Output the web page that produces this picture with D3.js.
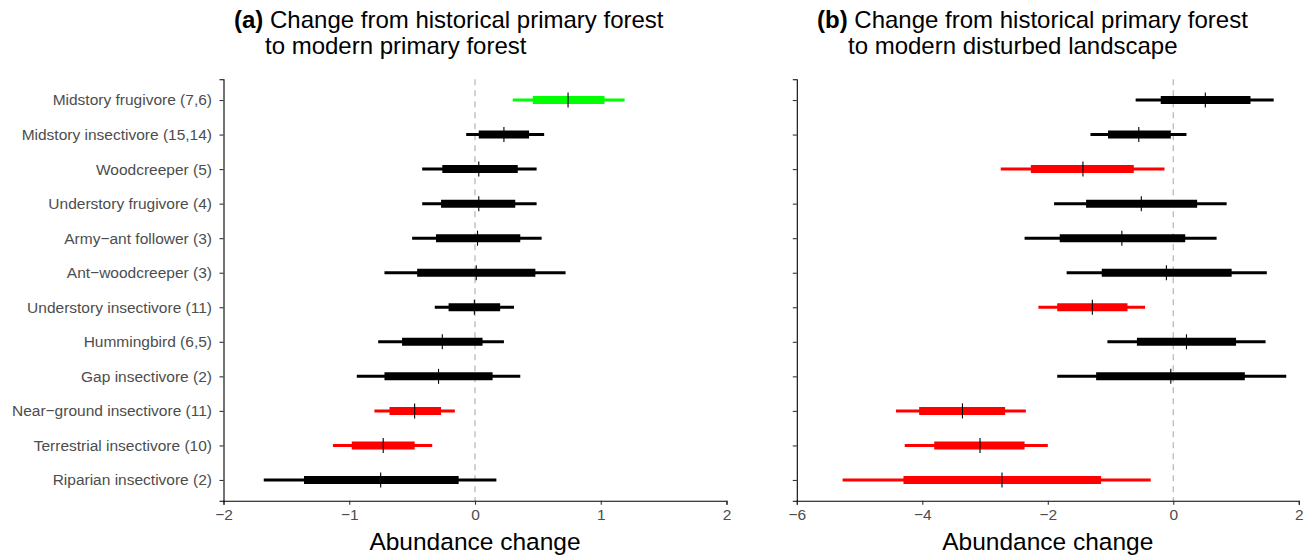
<!DOCTYPE html>
<html>
<head>
<meta charset="utf-8">
<script src="https://cdn.jsdelivr.net/npm/d3@7"></script>
<style>
  body { margin: 0; background: #fff; }
  text { font-family: "Liberation Sans", Arial, sans-serif; }
</style>
</head>
<body>
<div id="chart"></div>
<script>
// Guild names (top to bottom)
const guilds = [
    "Midstory frugivore (7,6)",
    "Midstory insectivore (15,14)",
    "Woodcreeper (5)",
    "Understory frugivore (4)",
    "Army\u2212ant follower (3)",
    "Ant\u2212woodcreeper (3)",
    "Understory insectivore (11)",
    "Hummingbird (6,5)",
    "Gap insectivore (2)",
    "Near\u2212ground insectivore (11)",
    "Terrestrial insectivore (10)",
    "Riparian insectivore (2)"
];

// Panel (a): historical primary -> modern primary
const aMedian = [0.74, 0.23, 0.03, 0.03, 0.02, 0.01, -0.005, -0.26, -0.29, -0.48, -0.73, -0.75];
const aInnerLo = [0.46, 0.03, -0.26, -0.27, -0.31, -0.46, -0.21, -0.58, -0.72, -0.68, -0.98, -1.36];
const aInnerHi = [1.03, 0.43, 0.34, 0.32, 0.36, 0.48, 0.20, 0.06, 0.14, -0.27, -0.48, -0.13];
const aOuterLo = [0.30, -0.07, -0.42, -0.42, -0.50, -0.72, -0.32, -0.77, -0.94, -0.80, -1.13, -1.68];
const aOuterHi = [1.19, 0.55, 0.49, 0.49, 0.53, 0.72, 0.31, 0.23, 0.36, -0.16, -0.34, 0.17];
const aSig = ["up", "ns", "ns", "ns", "ns", "ns", "ns", "ns", "ns", "down", "down", "ns"];

// Panel (b): historical primary -> modern disturbed
const bMedian = [0.51, -0.55, -1.44, -0.51, -0.82, -0.11, -1.29, 0.21, -0.04, -3.36, -3.08, -2.73];
const bInnerLo = [-0.20, -1.04, -2.27, -1.39, -1.81, -1.14, -1.85, -0.58, -1.23, -4.05, -3.81, -4.30];
const bInnerHi = [1.23, -0.04, -0.63, 0.38, 0.19, 0.93, -0.73, 1.00, 1.14, -2.68, -2.37, -1.15];
const bOuterLo = [-0.60, -1.32, -2.75, -1.90, -2.37, -1.70, -2.15, -1.05, -1.85, -4.42, -4.28, -5.27];
const bOuterHi = [1.60, 0.21, -0.14, 0.85, 0.69, 1.49, -0.45, 1.47, 1.80, -2.35, -2.00, -0.36];
const bSig = ["ns", "ns", "down", "ns", "ns", "ns", "down", "ns", "ns", "down", "down", "down"];

const aTicks = [-2, -1, 0, 1, 2];
const bTicks = [-6, -4, -2, 0, 2];

const sigColor = { up: "#00FF00", down: "#FF0000", ns: "#000000" };

const width = 1312, height = 555;
const svg = d3.select("#chart").append("svg")
    .attr("width", width)
    .attr("height", height);

const y = d3.scalePoint().domain(guilds).range([79.3, 500.7]).padding(0.6);

function drawPanel(opts) {
    const x = d3.scaleLinear().domain(opts.domain).range(opts.range);
    const g = svg.append("g");
    const rows = guilds.map((name, i) => ({
        name: name,
        med: opts.med[i], ilo: opts.ilo[i], ihi: opts.ihi[i],
        olo: opts.olo[i], ohi: opts.ohi[i], sig: opts.sig[i]
    }));

    // zero reference line
    g.append("line")
        .attr("x1", x(0)).attr("x2", x(0))
        .attr("y1", y.range()[0]).attr("y2", y.range()[1])
        .attr("stroke", "#BEBEBE")
        .attr("stroke-width", 1.4)
        .attr("stroke-dasharray", "6,5");

    // outer interval (thin)
    g.selectAll(".outer").data(rows).enter().append("line")
        .attr("x1", d => x(d.olo)).attr("x2", d => x(d.ohi))
        .attr("y1", d => y(d.name)).attr("y2", d => y(d.name))
        .attr("stroke", d => sigColor[d.sig])
        .attr("stroke-width", 3);

    // inner interval (thick)
    g.selectAll(".inner").data(rows).enter().append("line")
        .attr("x1", d => x(d.ilo)).attr("x2", d => x(d.ihi))
        .attr("y1", d => y(d.name)).attr("y2", d => y(d.name))
        .attr("stroke", d => sigColor[d.sig])
        .attr("stroke-width", 8);

    // median tick
    g.selectAll(".med").data(rows).enter().append("line")
        .attr("x1", d => x(d.med)).attr("x2", d => x(d.med))
        .attr("y1", d => y(d.name) - 7.5).attr("y2", d => y(d.name) + 7.5)
        .attr("stroke", "#000")
        .attr("stroke-width", 1.1);

    // x axis
    const xAxis = g.append("g")
        .attr("transform", `translate(0,${y.range()[1]})`)
        .call(d3.axisBottom(x).tickValues(opts.ticks).tickSize(4).tickPadding(4)
            .tickFormat(d => d < 0 ? "\u2212" + Math.abs(d) : d));
    xAxis.select(".domain").attr("stroke", "#000").attr("stroke-width", 1.1);
    xAxis.selectAll(".tick line").attr("stroke", "#333").attr("stroke-width", 1.1);
    xAxis.selectAll(".tick text").attr("fill", "#4D4D4D").attr("font-size", "15.5px")
        .attr("font-family", "Liberation Sans, Arial, sans-serif");

    // y axis
    const yAxis = g.append("g")
        .attr("transform", `translate(${opts.range[0]},0)`)
        .call(d3.axisLeft(y).tickSize(4).tickPadding(7.5)
            .tickFormat(d => opts.labels ? d : ""));
    yAxis.select(".domain").attr("stroke", "#000").attr("stroke-width", 1.1);
    yAxis.selectAll(".tick line").attr("stroke", "#333").attr("stroke-width", 1.1);
    yAxis.selectAll(".tick text").attr("fill", "#4D4D4D").attr("font-size", "15.5px")
        .attr("font-family", "Liberation Sans, Arial, sans-serif");

    // axis title
    g.append("text")
        .attr("x", (opts.range[0] + opts.range[1]) / 2)
        .attr("y", 550)
        .attr("text-anchor", "middle")
        .attr("font-size", "24.5px")
        .attr("fill", "#000")
        .text("Abundance change");

    // panel title
    const t = g.append("text")
        .attr("x", opts.titleX)
        .attr("y", 28)
        .attr("font-size", "24px")
        .attr("fill", "#000");
    t.append("tspan").attr("font-weight", "bold").text(opts.tag);
    t.append("tspan").text(" Change from historical primary forest");
    g.append("text")
        .attr("x", opts.titleX + 31)
        .attr("y", 54)
        .attr("font-size", "24px")
        .attr("fill", "#000")
        .text(opts.title2);
}

drawPanel({
    domain: [-2, 2], range: [223.5, 726.5], ticks: aTicks,
    med: aMedian, ilo: aInnerLo, ihi: aInnerHi, olo: aOuterLo, ohi: aOuterHi, sig: aSig,
    labels: true, tag: "(a)", titleX: 234, title2: "to modern primary forest"
});

drawPanel({
    domain: [-6, 2], range: [796.8, 1298.8], ticks: bTicks,
    med: bMedian, ilo: bInnerLo, ihi: bInnerHi, olo: bOuterLo, ohi: bOuterHi, sig: bSig,
    labels: false, tag: "(b)", titleX: 817, title2: "to modern disturbed landscape"
});
</script>
</body>
</html>
